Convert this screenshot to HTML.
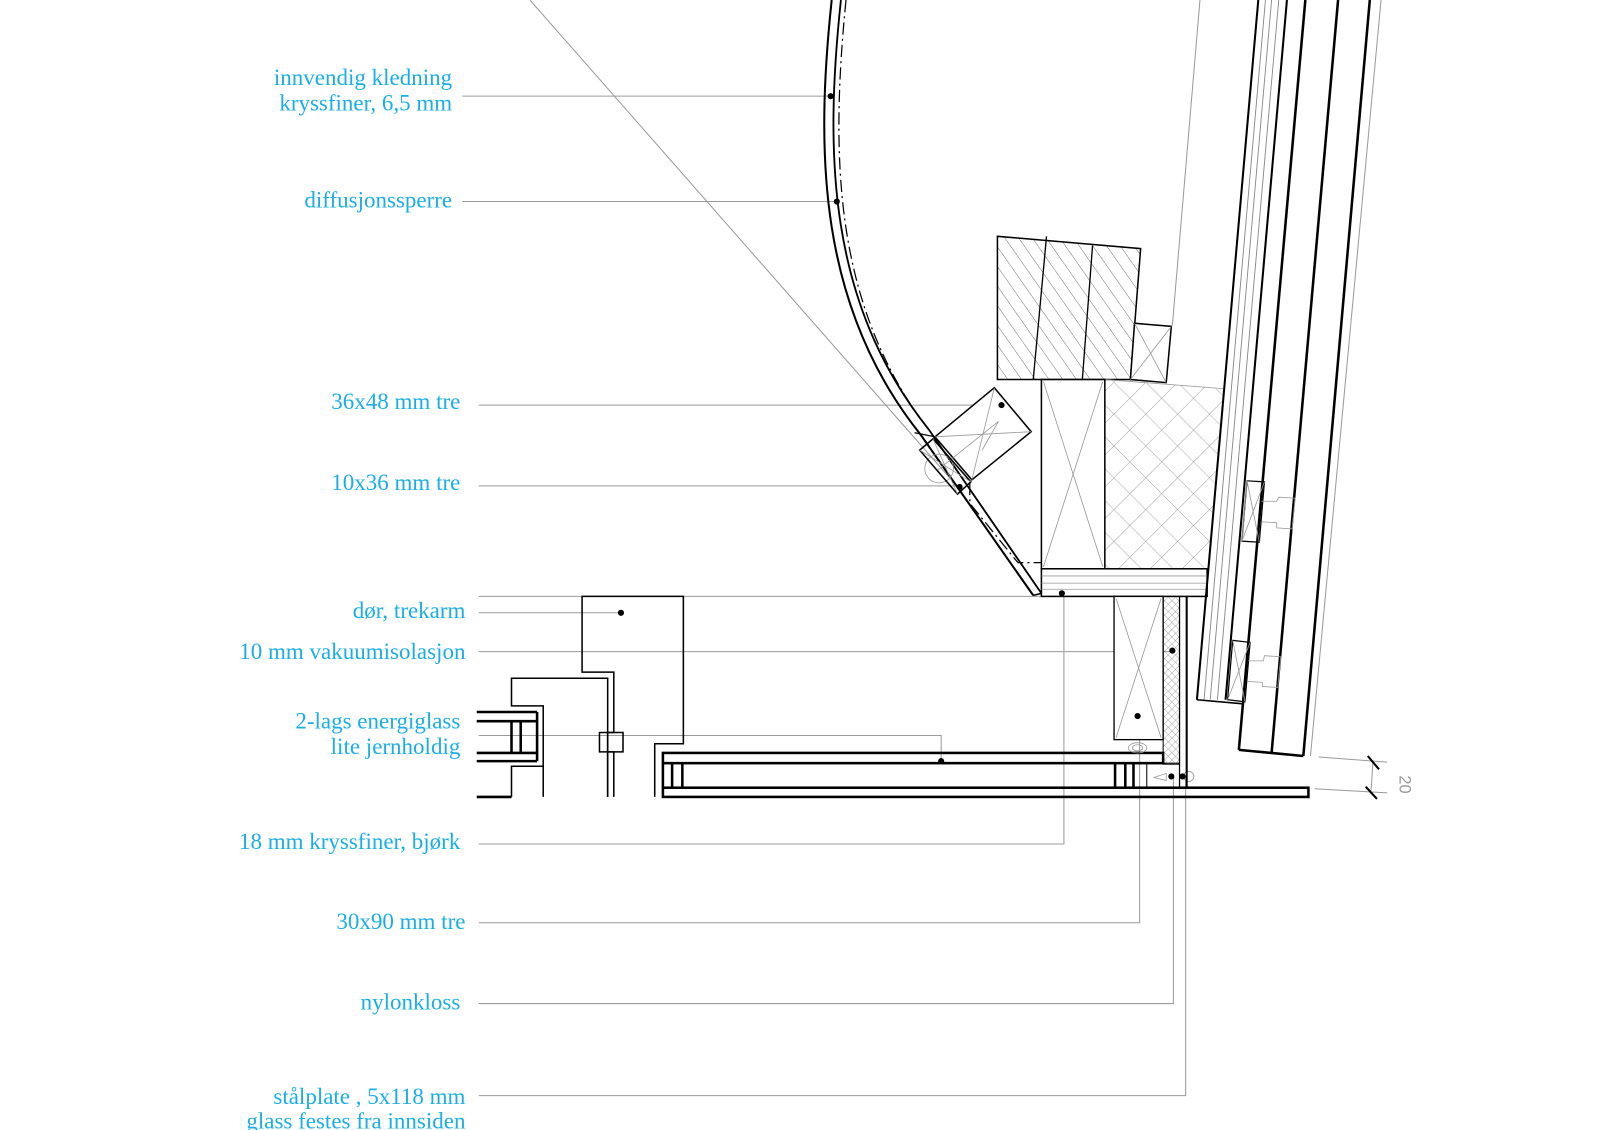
<!DOCTYPE html>
<html><head><meta charset="utf-8"><style>
html,body{margin:0;padding:0;background:#fff;}
svg{display:block;}
text{font-family:"Liberation Serif",serif;font-size:22.5px;fill:#1aaee8;}
</style></head><body>
<svg width="1600" height="1130" viewBox="0 0 1600 1130" xmlns="http://www.w3.org/2000/svg">
<defs>
<pattern id="diag" patternUnits="userSpaceOnUse" width="11" height="11" patternTransform="rotate(-35)">
<line x1="0" y1="0" x2="0" y2="11" stroke="#555" stroke-width="0.8"/>
</pattern>
<pattern id="cross" patternUnits="userSpaceOnUse" width="22" height="22" patternTransform="rotate(45)">
<line x1="0" y1="0" x2="0" y2="22" stroke="#888" stroke-width="0.8"/>
<line x1="0" y1="0" x2="22" y2="0" stroke="#888" stroke-width="0.8"/>
</pattern>
<pattern id="fine" patternUnits="userSpaceOnUse" width="5" height="5" patternTransform="rotate(45)">
<line x1="0" y1="0" x2="0" y2="5" stroke="#777" stroke-width="0.6"/>
<line x1="0" y1="0" x2="5" y2="0" stroke="#777" stroke-width="0.6"/>
</pattern>
</defs>
<g transform="scale(1.023)">
<g stroke="#9a9a9a" stroke-width="1" fill="none">
<line x1="518" y1="0" x2="937" y2="477"/>
<line x1="452" y1="94" x2="812" y2="94"/>
<line x1="452" y1="197" x2="818" y2="197"/>
<line x1="468" y1="396" x2="979" y2="396"/>
<line x1="468" y1="475" x2="940" y2="475"/>
<line x1="468" y1="583" x2="1018" y2="583"/>
<line x1="468" y1="599" x2="607" y2="599"/>
<line x1="468" y1="637" x2="1149" y2="637"/>
<polyline points="468,719 920,719 920,744"/>
<polyline points="468,825 1040,825 1040,580"/>
<polyline points="468,902 1114,902 1114,700"/>
<polyline points="468,981 1147,981 1147,759"/>
<polyline points="468,1071 1159,1071 1159,759"/>
<line x1="1173" y1="0" x2="1146" y2="318"/>
<line x1="1350" y1="0" x2="1281" y2="739"/>
<line x1="1289" y1="740" x2="1356" y2="745"/>
<line x1="1285" y1="771" x2="1356" y2="775"/>
<line x1="1342" y1="746" x2="1340" y2="776"/>
</g>
<g stroke="#000" stroke-width="2">
<line x1="1337" y1="739" x2="1348" y2="752"/>
<line x1="1335" y1="769" x2="1346" y2="781"/>
</g>
<text x="1368" y="758" transform="rotate(90 1368 758)" style="fill:#999;font-size:16px;font-family:'Liberation Sans',sans-serif">20</text>

<g fill="none" stroke="#000">
<path d="M813,0 C797,150 800,300 900,425 L1010,582" stroke-width="2"/>
<path d="M822,0 C806,150 809,296 908,420 L1018,580" stroke-width="1.8"/>
<line x1="1010" y1="582" x2="1018" y2="580" stroke-width="1.5"/>
<path d="M827,0 C812,150 815,290 900,410" stroke-width="1.2" stroke-dasharray="12,4,2,4"/>
<path d="M948,472 L948,492 L995,550 L1068,550" stroke-width="1.2" stroke-dasharray="12,4,2,4"/>
</g>

<polygon points="975,231 1115,243 1105,371 975,371" fill="url(#diag)" stroke="#000" stroke-width="1.5"/>
<g stroke="#000" stroke-width="1.3"><line x1="1023" y1="231" x2="1010" y2="371"/><line x1="1068" y1="240" x2="1058" y2="371"/></g>
<polygon points="1109,316 1145,319 1140,374 1105,371" fill="#fff" stroke="#000" stroke-width="1.5"/>
<g stroke="#999" stroke-width="0.8"><line x1="1109" y1="316" x2="1140" y2="374"/><line x1="1145" y1="319" x2="1105" y2="371"/></g>

<polygon points="1080,371 1197,380 1180,556 1080,556" fill="url(#cross)" stroke="none"/>
<line x1="1080" y1="371" x2="1197" y2="380" stroke="#999" stroke-width="0.8"/>
<rect x="1018" y="371" width="62" height="185" fill="#fff" stroke="#000" stroke-width="1.5"/>
<g stroke="#999" stroke-width="0.8"><line x1="1020" y1="373" x2="1078" y2="554"/><line x1="1078" y1="373" x2="1020" y2="554"/></g>
<rect x="1018" y="556" width="162" height="27" fill="#fff" stroke="#000" stroke-width="1.5"/>
<g stroke="#999" stroke-width="0.8"><line x1="1018" y1="563" x2="1180" y2="563"/><line x1="1018" y1="570" x2="1180" y2="570"/><line x1="1018" y1="576" x2="1180" y2="576"/></g>

<g stroke="#000" fill="none">
<line x1="1230" y1="0" x2="1170" y2="684" stroke-width="2"/>
<line x1="1237" y1="0" x2="1177" y2="684" stroke="#888" stroke-width="0.9"/>
<line x1="1243" y1="0" x2="1183" y2="684" stroke="#888" stroke-width="0.9"/>
<line x1="1250" y1="0" x2="1190" y2="684" stroke="#888" stroke-width="0.9"/>
<line x1="1258" y1="0" x2="1198" y2="684" stroke-width="2"/>
<line x1="1170" y1="684" x2="1215" y2="688" stroke-width="1.5"/>
<line x1="1276" y1="0" x2="1211" y2="733" stroke-width="2.5"/>
<line x1="1308" y1="0" x2="1243" y2="736" stroke-width="2.5"/>
<line x1="1339" y1="0" x2="1274" y2="739" stroke-width="2.5"/>
<line x1="1211" y1="733" x2="1274" y2="739" stroke-width="2.5"/>
<polygon points="1219,470 1236,471 1231,530 1214,529" stroke-width="1.2"/>
<polygon points="1205,626 1222,628 1217,686 1200,684" stroke-width="1.2"/>
</g>
<g stroke="#999" stroke-width="0.8" fill="none">
<line x1="1219" y1="470" x2="1214" y2="529"/><line x1="1236" y1="471" x2="1214" y2="529"/><line x1="1219" y1="470" x2="1231" y2="530"/>
<line x1="1205" y1="626" x2="1217" y2="686"/><line x1="1222" y1="628" x2="1200" y2="684"/>
<polyline points="1233,490 1248,490 1250,486 1266,487 1263,517 1248,516 1248,511 1233,510"/>
<polyline points="1220,646 1235,646 1236,641 1252,642 1249,672 1234,671 1234,667 1219,666"/>
</g>

<polygon points="972,379 1008,422 950,469 914,427" fill="#fff" stroke="#000" stroke-width="1.5"/>
<g stroke="#999" stroke-width="0.8" fill="none">
<line x1="972" y1="379" x2="950" y2="469"/><line x1="914" y1="427" x2="1008" y2="422"/>
<polyline points="916,460 976,412 960,440"/>
<circle cx="918" cy="458" r="14"/>
</g>
<polygon points="899,440 912,429 949,471 936,483" fill="none" stroke="#000" stroke-width="1.5"/>
<line x1="894" y1="423" x2="914" y2="427" stroke="#000" stroke-width="1.2"/>
<g stroke="#999" stroke-width="0.8"><line x1="899" y1="440" x2="949" y2="471"/><line x1="912" y1="429" x2="936" y2="483"/></g>

<g fill="none" stroke="#000" stroke-width="1.5">
<polyline points="600,779 600,735 586,735 586,716 600,716 600,657 569,657 569,583 668,583 668,727 640,727 640,779"/>
<polyline points="594,779 594,716 609,716 609,735 594,735"/>
<polyline points="594,779 594,663 500,663 500,690 531,690 531,779"/>
<polyline points="500,779 500,749 531,749"/>
</g>
<g fill="none" stroke="#000" stroke-width="2.5">
<line x1="466" y1="696" x2="525" y2="696"/>
<line x1="466" y1="705" x2="525" y2="705"/>
<line x1="466" y1="736" x2="525" y2="736"/>
<line x1="466" y1="744" x2="525" y2="744"/>
<line x1="525" y1="696" x2="525" y2="744"/>
<line x1="500" y1="705" x2="500" y2="736"/>
<line x1="509" y1="705" x2="509" y2="736"/>
<line x1="466" y1="779" x2="500" y2="779"/>
</g>

<g fill="none" stroke="#000" stroke-width="2.5">
<rect x="648" y="736" width="489" height="10"/>
<rect x="648" y="770" width="631" height="9"/>
<line x1="648" y1="746" x2="648" y2="770"/>
<line x1="657" y1="746" x2="657" y2="770"/>
<line x1="667" y1="746" x2="667" y2="770"/>
<line x1="1090" y1="746" x2="1090" y2="770"/>
<line x1="1100" y1="746" x2="1100" y2="770"/>
<line x1="1108" y1="746" x2="1108" y2="770"/>
</g>
<rect x="1121" y="746" width="32" height="24" fill="none" stroke="#000" stroke-width="1"/>
<rect x="1089" y="583" width="48" height="140" fill="#fff" stroke="#000" stroke-width="1.3"/>
<g stroke="#999" stroke-width="0.8" fill="none"><line x1="1091" y1="585" x2="1135" y2="721"/><line x1="1135" y1="585" x2="1091" y2="721"/>
<ellipse cx="1112" cy="731" rx="9" ry="5"/><ellipse cx="1112" cy="731" rx="5" ry="3"/>
<path d="M1128,760 L1140,756 L1140,763 Z"/><circle cx="1162" cy="759" r="5"/></g>
<rect x="1137" y="583" width="16" height="164" fill="url(#fine)" stroke="#000" stroke-width="1"/>
<line x1="1153" y1="583" x2="1153" y2="770" stroke="#000" stroke-width="1.2"/>
<line x1="1160" y1="583" x2="1160" y2="770" stroke="#000" stroke-width="2"/>

<g fill="#000">
<circle cx="812" cy="94" r="3"/>
<circle cx="818" cy="197" r="3"/>
<circle cx="979" cy="396" r="3"/>
<circle cx="938" cy="476" r="3"/>
<circle cx="607" cy="599" r="3"/>
<circle cx="1146" cy="636" r="3"/>
<circle cx="920" cy="744" r="3"/>
<circle cx="1038" cy="580" r="3"/>
<circle cx="1112" cy="700" r="3"/>
<circle cx="1145" cy="759" r="3"/>
<circle cx="1156" cy="759" r="3"/>
</g>

<g text-anchor="end">
<text x="442" y="83">innvendig kledning</text>
<text x="442" y="108">kryssfiner, 6,5 mm</text>
<text x="442" y="203">diffusjonssperre</text>
<text x="450" y="400">36x48 mm tre</text>
<text x="450" y="479">10x36 mm tre</text>
<text x="455" y="604">dør, trekarm</text>
<text x="455" y="644">10 mm vakuumisolasjon</text>
<text x="450" y="712">2-lags energiglass</text>
<text x="450" y="737">lite jernholdig</text>
<text x="450" y="830">18 mm kryssfiner, bjørk</text>
<text x="455" y="908">30x90 mm tre</text>
<text x="450" y="987">nylonkloss</text>
<text x="455" y="1079">stålplate , 5x118 mm</text>
<text x="455" y="1103">glass festes fra innsiden</text>
</g>
</g>
</svg>
</body></html>
